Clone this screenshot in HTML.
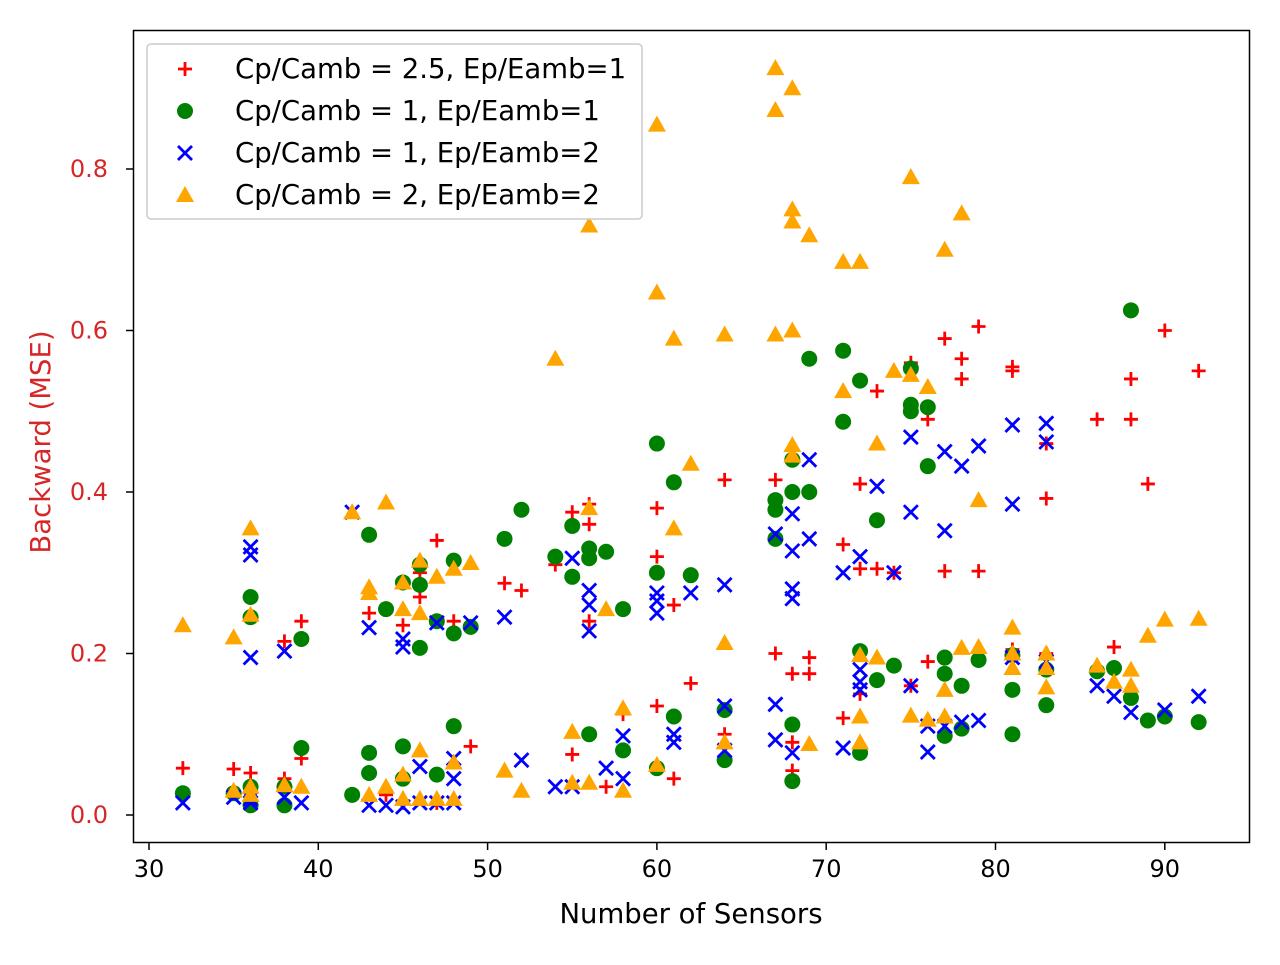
<!DOCTYPE html>
<html><head><meta charset="utf-8"><style>
body{margin:0;background:#fff;}
svg text{font-family:"DejaVu Sans","Liberation Sans",sans-serif;}
</style></head><body>
<svg id="chart" width="1280" height="960" xmlns="http://www.w3.org/2000/svg">
<rect x="0" y="0" width="1280" height="960" fill="#fff"/>
<g id="marks"></g>
<rect x="133.5" y="30.5" width="1116" height="812" fill="none" stroke="#000" stroke-width="1.5"/>
<g id="xaxis"></g><g id="yaxis"></g>
<text x="691" y="923" font-size="27.5" text-anchor="middle" fill="#000">Number of Sensors</text>
<text transform="translate(50,442) rotate(-90)" font-size="27.5" text-anchor="middle" fill="#d62728">Backward (MSE)</text>
<g id="legend"></g>
</svg>
<script>
const xTicks=[30,40,50,60,70,80,90];
const yTicks=[0.0,0.2,0.4,0.6,0.8];
const redPlus=[[32,0.058],[35,0.057],[36,0.052],[38,0.045],[38,0.215],[39,0.24],[39,0.07],[43,0.25],[45,0.235],[46,0.27],[46,0.3],[47,0.34],[48,0.24],[49,0.085],[51,0.287],[52,0.278],[54,0.31],[55,0.375],[55,0.075],[56,0.36],[56,0.385],[56,0.24],[57,0.035],[58,0.125],[60,0.38],[60,0.32],[60,0.135],[61,0.26],[61,0.045],[62,0.163],[64,0.415],[64,0.1],[67,0.415],[67,0.2],[68,0.175],[68,0.09],[68,0.055],[69,0.195],[69,0.175],[71,0.335],[71,0.12],[72,0.41],[72,0.305],[72,0.15],[73,0.525],[73,0.305],[74,0.3],[75,0.56],[75,0.16],[76,0.49],[76,0.19],[77,0.59],[77,0.302],[78,0.565],[78,0.54],[79,0.605],[79,0.302],[81,0.555],[81,0.55],[81,0.205],[83,0.46],[83,0.392],[83,0.2],[86,0.49],[87,0.208],[88,0.54],[88,0.49],[89,0.41],[90,0.6],[92,0.55],[44,0.025],[45,0.015],[47,0.015]];
const greenCircle=[[32,0.027],[35,0.027],[36,0.27],[36,0.245],[36,0.035],[36,0.012],[38,0.012],[38,0.035],[39,0.083],[39,0.218],[42,0.025],[43,0.347],[43,0.077],[43,0.052],[44,0.255],[45,0.288],[45,0.085],[45,0.045],[46,0.285],[46,0.31],[46,0.207],[47,0.24],[47,0.05],[48,0.315],[48,0.225],[48,0.11],[49,0.233],[51,0.342],[52,0.378],[54,0.32],[55,0.358],[55,0.295],[56,0.33],[56,0.318],[56,0.1],[57,0.326],[58,0.255],[58,0.08],[60,0.46],[60,0.3],[60,0.058],[61,0.412],[61,0.122],[62,0.297],[64,0.13],[64,0.068],[67,0.39],[67,0.378],[67,0.342],[68,0.44],[68,0.4],[68,0.112],[68,0.042],[69,0.565],[69,0.4],[71,0.575],[71,0.487],[72,0.538],[72,0.203],[72,0.077],[73,0.365],[73,0.167],[74,0.185],[75,0.553],[75,0.508],[75,0.5],[76,0.505],[76,0.432],[77,0.195],[77,0.175],[77,0.098],[78,0.16],[78,0.107],[79,0.192],[81,0.198],[81,0.155],[81,0.1],[83,0.18],[83,0.136],[86,0.178],[87,0.182],[88,0.625],[88,0.145],[89,0.117],[90,0.122],[92,0.115]];
const blueX=[[32,0.015],[35,0.022],[36,0.332],[36,0.322],[36,0.195],[36,0.02],[36,0.015],[38,0.203],[38,0.022],[39,0.015],[42,0.375],[43,0.232],[43,0.012],[44,0.012],[45,0.218],[45,0.208],[45,0.01],[46,0.06],[46,0.015],[47,0.238],[47,0.015],[48,0.07],[48,0.045],[48,0.015],[49,0.238],[51,0.245],[52,0.068],[54,0.035],[55,0.318],[55,0.035],[56,0.278],[56,0.26],[56,0.228],[57,0.058],[58,0.098],[58,0.045],[60,0.275],[60,0.265],[60,0.25],[61,0.1],[61,0.09],[62,0.275],[64,0.285],[64,0.135],[64,0.08],[67,0.348],[67,0.137],[67,0.093],[68,0.373],[68,0.327],[68,0.28],[68,0.268],[68,0.077],[69,0.44],[69,0.342],[71,0.3],[71,0.083],[72,0.32],[72,0.18],[72,0.165],[72,0.155],[73,0.407],[74,0.3],[75,0.468],[75,0.375],[75,0.16],[76,0.078],[76,0.11],[77,0.45],[77,0.352],[77,0.11],[78,0.432],[78,0.115],[79,0.457],[79,0.117],[81,0.483],[81,0.385],[81,0.195],[83,0.485],[83,0.462],[83,0.19],[86,0.16],[87,0.147],[88,0.127],[90,0.13],[92,0.147]];
const orangeTri=[[32,0.235],[35,0.22],[35,0.03],[36,0.355],[36,0.248],[36,0.035],[36,0.025],[38,0.037],[39,0.035],[42,0.375],[43,0.282],[43,0.275],[43,0.025],[44,0.387],[44,0.035],[45,0.288],[45,0.255],[45,0.05],[45,0.02],[46,0.315],[46,0.25],[46,0.08],[46,0.02],[47,0.295],[47,0.02],[48,0.305],[48,0.065],[48,0.02],[49,0.312],[51,0.055],[52,0.03],[54,0.565],[55,0.103],[55,0.04],[56,0.73],[56,0.38],[56,0.04],[57,0.255],[58,0.132],[58,0.03],[60,0.855],[60,0.647],[60,0.062],[61,0.59],[61,0.355],[62,0.435],[64,0.595],[64,0.213],[64,0.09],[67,0.925],[67,0.873],[67,0.595],[68,0.9],[68,0.75],[68,0.735],[68,0.6],[68,0.458],[68,0.445],[69,0.718],[69,0.088],[71,0.685],[71,0.525],[72,0.685],[72,0.198],[72,0.122],[72,0.09],[73,0.46],[73,0.195],[74,0.55],[75,0.79],[75,0.545],[75,0.123],[76,0.53],[76,0.118],[77,0.7],[77,0.155],[77,0.122],[78,0.745],[78,0.207],[79,0.39],[79,0.208],[81,0.232],[81,0.2],[81,0.182],[83,0.2],[83,0.182],[83,0.158],[86,0.185],[87,0.165],[88,0.18],[88,0.16],[89,0.222],[90,0.242],[92,0.243]];
const legendLabels=["Cp/Camb = 2.5, Ep/Eamb=1","Cp/Camb = 1, Ep/Eamb=1","Cp/Camb = 1, Ep/Eamb=2","Cp/Camb = 2, Ep/Eamb=2"];

const NS="http://www.w3.org/2000/svg";
function xs(v){return 149+(v-30)*16.93;}
function ys(v){return 815-v*807.5;}
function mk(tag,attrs,parent){const e=document.createElementNS(NS,tag);for(const k in attrs)e.setAttribute(k,attrs[k]);parent.appendChild(e);return e;}
function marker(type,cx,cy,parent){
  let e;
  if(type==='plus'){e=mk('path',{d:`M${cx-7} ${cy}H${cx+7}M${cx} ${cy-7}V${cy+7}`,stroke:'#ff0000','stroke-width':2.8,fill:'none'},parent);}
  else if(type==='circle'){e=mk('circle',{cx:cx,cy:cy,r:8,fill:'#008000'},parent);}
  else if(type==='x'){e=mk('path',{d:`M${cx-7} ${cy-7}L${cx+7} ${cy+7}M${cx-7} ${cy+7}L${cx+7} ${cy-7}`,stroke:'#0000ff','stroke-width':2.8,fill:'none'},parent);}
  else {e=mk('path',{d:`M${cx} ${cy-9}L${cx+9} ${cy+7}L${cx-9} ${cy+7}Z`,fill:'#ffa500'},parent);}
  return e;
}
const marks=document.getElementById('marks');
const series=[['plus',redPlus,'red-plus-point'],['circle',greenCircle,'green-circle-point'],['x',blueX,'blue-x-point'],['tri',orangeTri,'orange-triangle-point']];
series.forEach(s=>{
  const g=mk('g',{},marks);
  
  
  s[1].forEach(p=>{
    const e=marker(s[0],xs(p[0]),ys(p[1]),g);
    
    
  });
});
const xa=document.getElementById('xaxis');
xTicks.forEach(t=>{
  const x=xs(t);
  const l=mk('line',{x1:x,x2:x,y1:843,y2:850,stroke:'#000','stroke-width':1.5},xa);
  
  
  const tx=mk('text',{x:x,y:877,'font-size':24,'text-anchor':'middle',fill:'#000'},xa);
  
  
  tx.textContent=t;
});
const ya=document.getElementById('yaxis');
yTicks.forEach(t=>{
  const y=ys(t);
  const l=mk('line',{x1:126,x2:133,y1:y,y2:y,stroke:'#000','stroke-width':1.5},ya);
  
  
  const tx=mk('text',{x:108,y:y+8,'font-size':24,'text-anchor':'end',fill:'#d62728'},ya);
  
  
  tx.textContent=t.toFixed(1);
});
const lg=document.getElementById('legend');
mk('rect',{x:147,y:44,width:495,height:175,rx:4,fill:'#fff','fill-opacity':0.8,stroke:'#ccc','stroke-width':1.5},lg);
const types=['plus','circle','x','tri'];
legendLabels.forEach((lab,i)=>{
  const y=69+i*42;
  const m=marker(types[i],185,y,lg);
  
  
  const tx=mk('text',{x:235,y:y+9,'font-size':27.5,fill:'#000'},lg);
  
  
  tx.textContent=lab;
});
</script>
</body></html>
